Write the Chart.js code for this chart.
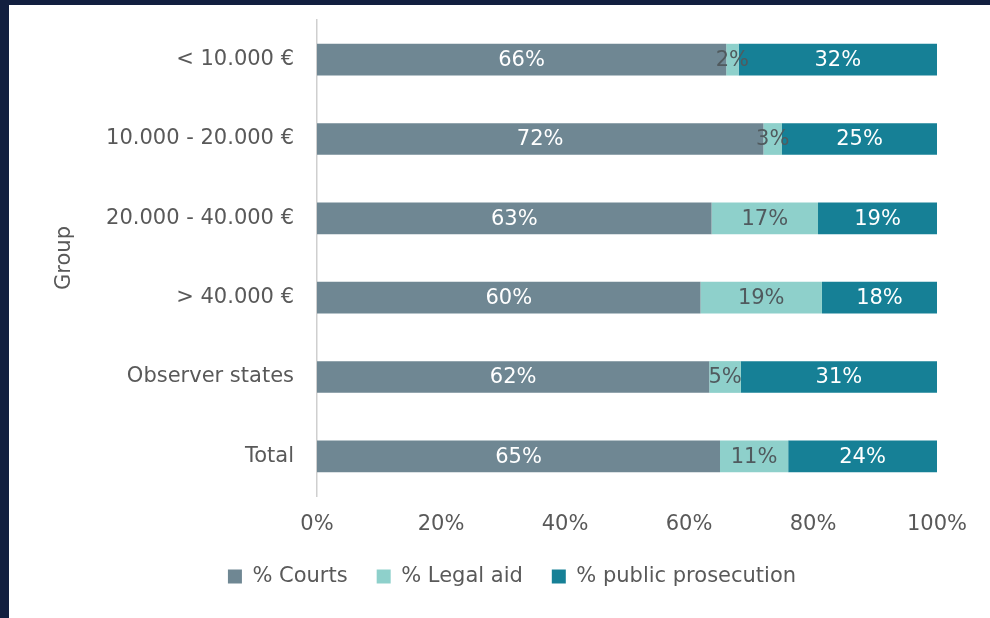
<!DOCTYPE html>
<html>
<head>
<meta charset="utf-8">
<script src="https://cdn.jsdelivr.net/npm/chart.js@4.4.1/dist/chart.umd.min.js"></script>
<style>
  html,body{margin:0;padding:0;background:#121f3f;}
  #panel{position:absolute;left:9px;top:5px;width:981px;height:613px;background:#fff;}
  #chart{display:block;}
</style>
</head>
<body>
<div id="panel"><canvas id="chart" width="981" height="613"></canvas></div>
<script>
// CHART DATA
const groups = ['< 10.000 €', '10.000 - 20.000 €', '20.000 - 40.000 €', '> 40.000 €', 'Observer states', 'Total'];
const courts = [66, 72, 63, 60, 62, 65];
const legalAid = [2, 3, 17, 19, 5, 11];
const prosecution = [32, 25, 19, 18, 31, 24];
const xTicks = ['0%', '20%', '40%', '60%', '80%', '100%'];

const FONT = 'DejaVu Sans';
const GREY = '#595959';

// 100% stacked: each row is scaled to its own total
const totals = groups.map((g, i) => courts[i] + legalAid[i] + prosecution[i]);
const share = arr => arr.map((v, i) => v / totals[i] * 100);

// percentage labels inside each bar segment
const barLabels = {
  id: 'barLabels',
  afterDatasetsDraw(chart) {
    const ctx = chart.ctx;
    ctx.save();
    ctx.font = '21px ' + FONT;
    ctx.textAlign = 'center';
    ctx.textBaseline = 'middle';
    chart.data.datasets.forEach((ds, di) => {
      chart.getDatasetMeta(di).data.forEach((bar, i) => {
        ctx.fillStyle = ds.labelColor;
        ctx.fillText(ds.raw[i] + '%', (bar.x + bar.base) / 2, bar.y + 1);
      });
    });
    ctx.restore();
  }
};

// nudge the legend row a little to the right, like the original
const legendShift = {
  id: 'legendShift',
  afterLayout(chart) {
    chart.legend.left += 39;
    chart.legend.right += 39;
  }
};

new Chart(document.getElementById('chart'), {
  type: 'bar',
  data: {
    labels: groups,
    datasets: [
      {label: '% Courts', data: share(courts), raw: courts, backgroundColor: '#6f8793', labelColor: '#ffffff'},
      {label: '% Legal aid', data: share(legalAid), raw: legalAid, backgroundColor: '#8ed0cb', labelColor: '#505a5e'},
      {label: '% public prosecution', data: share(prosecution), raw: prosecution, backgroundColor: '#168096', labelColor: '#ffffff'}
    ]
  },
  options: {
    indexAxis: 'y',
    responsive: false,
    animation: false,
    categoryPercentage: 1,
    barPercentage: 0.4,
    layout: {padding: {top: 15, right: 53, left: 0, bottom: 21}},
    scales: {
      x: {
        stacked: true, min: 0, max: 100,
        grid: {display: false, drawTicks: false},
        border: {display: false},
        afterFit: s => { s.height = 41; },
        ticks: {
          stepSize: 20, padding: 16, color: GREY,
          font: {family: FONT, size: 21},
          callback: (v, i) => xTicks[i]
        }
      },
      y: {
        stacked: true,
        grid: {display: false, drawTicks: true, tickLength: 23},
        border: {display: true, color: '#cfcfcf', width: 1.5},
        afterFit: s => { s.width = 308; },
        ticks: {padding: 0, color: GREY, font: {family: FONT, size: 21}},
        title: {display: true, text: 'Group', color: GREY, font: {family: FONT, size: 21}, padding: {top: 43, bottom: 0}}
      }
    },
    plugins: {
      tooltip: {enabled: false},
      legend: {
        position: 'bottom',
        labels: {boxWidth: 14, boxHeight: 14, padding: 29, color: GREY, font: {family: FONT, size: 21}}
      }
    }
  },
  plugins: [barLabels, legendShift]
});
</script>
</body>
</html>
